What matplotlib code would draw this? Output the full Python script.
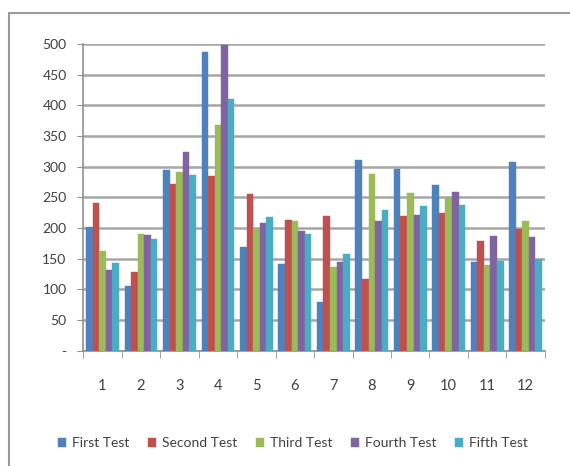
import matplotlib.pyplot as plt
import numpy as np
from matplotlib.patches import Rectangle

groups = [str(i) for i in range(1, 13)]
series = ["First Test", "Second Test", "Third Test", "Fourth Test", "Fifth Test"]
first = [202, 106, 294, 487, 169, 142, 80, 311, 296, 270, 144, 307]
second = [240, 128, 271, 284, 255, 213, 220, 117, 219, 225, 179, 199]
third = [163, 190, 292, 367, 198, 211, 136, 288, 257, 250, 140, 212]
fourth = [131, 189, 324, 498, 208, 195, 145, 212, 221, 258, 187, 185]
fifth = [143, 182, 286, 410, 218, 190, 158, 229, 236, 238, 147, 150]
colors = ["#4F81BD", "#C0504D", "#9BBB59", "#8064A2", "#4BACC6"]
yticks = [0, 50, 100, 150, 200, 250, 300, 350, 400, 450, 500]

plt.rcParams["font.family"] = ["Lato", "DejaVu Sans"]

fig = plt.figure(figsize=(5.7, 4.66), dpi=100)
ax = fig.add_axes([0.146, 0.247, 0.81, 0.659])

# chart area border, runs off the right and bottom edges
fig.patches.append(Rectangle((0.016, -0.05), 1.1, 1.022, transform=fig.transFigure,
                             fill=False, edgecolor="#9a9a9a", linewidth=1.5))

x = np.arange(len(groups))
w = 0.17
data = [first, second, third, fourth, fifth]
for i, (name, vals) in enumerate(zip(series, data)):
    ax.bar(x + (i - 2) * w, vals, w, color=colors[i], label=name,
           edgecolor=colors[i], linewidth=0.3, zorder=3)

ax.set_xlim(-0.5, len(groups) - 0.5)
ax.set_ylim(0, 500)
ax.set_yticks(yticks)
ax.set_yticklabels(["-"] + [str(v) for v in yticks[1:]], fontsize=10, color="#404040")
ax.yaxis.grid(True, color="#a6a6a6", linewidth=1.8, zorder=0)
ax.set_xticks(x)
ax.set_xticklabels(groups, fontsize=10.5, color="#404040")
ax.tick_params(axis="x", length=0, pad=20)
ax.tick_params(axis="y", length=4, color="#909090", pad=8)
ax.set_xticks(np.arange(-0.5, len(groups), 1), minor=True)
ax.tick_params(axis="x", which="minor", length=5, color="#909090")

for side in ["top", "right"]:
    ax.spines[side].set_visible(False)
ax.spines["left"].set_color("#909090")
ax.spines["bottom"].set_color("#909090")
ax.spines["left"].set_linewidth(1.2)
ax.spines["bottom"].set_linewidth(1.2)

fig.legend(loc="center", bbox_to_anchor=(293 / 570, 23 / 466), ncol=5, frameon=False,
           fontsize=10, handlelength=0.6, handleheight=0.6, handletextpad=0.45,
           columnspacing=1.3, labelcolor="#404040")

fig.savefig("out.png", dpi=100)
